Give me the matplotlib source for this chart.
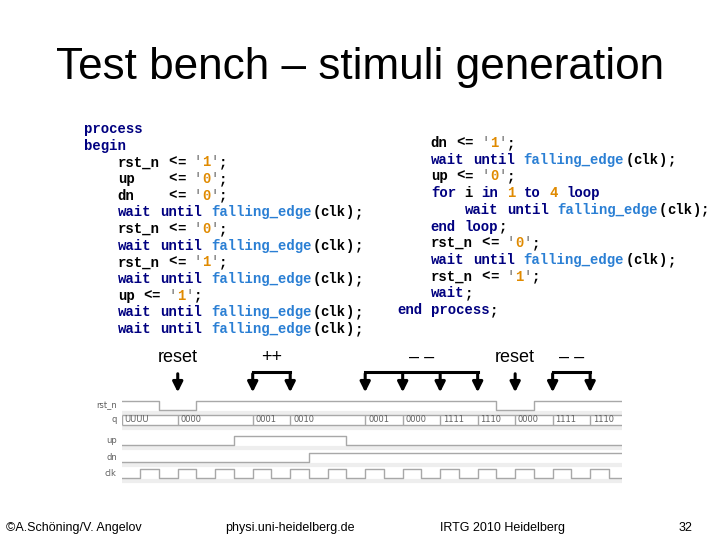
import re
import matplotlib
matplotlib.use('Agg')
import matplotlib.pyplot as plt

# --- data -------------------------------------------------------------
title = 'Test bench \u2013 stimuli generation'

code_left = [
    "process",
    "begin",
    "    rst_n <= '1';",
    "    up    <= '0';",
    "    dn    <= '0';",
    "    wait until falling_edge(clk);",
    "    rst_n <= '0';",
    "    wait until falling_edge(clk);",
    "    rst_n <= '1';",
    "    wait until falling_edge(clk);",
    "    up <= '1';",
    "    wait until falling_edge(clk);",
    "    wait until falling_edge(clk);",
]
code_right = [
    "    dn <= '1';",
    "    wait until falling_edge(clk);",
    "    up <= '0';",
    "    for i in 1 to 4 loop",
    "        wait until falling_edge(clk);",
    "    end loop;",
    "    rst_n <= '0';",
    "    wait until falling_edge(clk);",
    "    rst_n <= '1';",
    "    wait;",
    "end process;",
]
keywords = {'process', 'begin', 'wait', 'until', 'for', 'in', 'to', 'loop', 'end'}

# signal values per half clock period (t = 0 .. 26)
clk   = [0, 1] * 13 + [0]
rst_n = [1]*2 + [0]*2 + [1]*16 + [0]*2 + [1]*5
up    = [0]*6 + [1]*6 + [0]*15
dn    = [0]*10 + [1]*17
q_times  = [0, 3, 7, 9, 13, 15, 17, 19, 21, 23, 25]
q_labels = ['UUUU', '0000', '0001', '0010', '0001', '0000', '1111', '1110', '0000', '1111', '1110']
t_end = 26.7

events = [('reset', [3]), ('++', [7, 9]), ('\u2013 \u2013', [13, 15, 17, 19]),
          ('reset', [21]), ('\u2013 \u2013', [23, 25])]

footer = [('\u00a9A.Sch\u00f6ning/V. Angelov', 6, 'left'),
          ('physi.uni-heidelberg.de', 290, 'center'),
          ('IRTG 2010 Heidelberg', 503, 'center'),
          ('32', 692, 'right')]

# --- figure -----------------------------------------------------------
W, H = 720, 540
fig = plt.figure(figsize=(7.2, 5.4), dpi=100)
fig.patch.set_facecolor('white')

fig.text(360 / W, 1 - 68 / H, title, ha='center', va='center',
         fontsize=31.8, family='Liberation Sans')

CW = 8.45  # monospace char width in px
tok_re = re.compile(r"[A-Za-z_]+|\d+|'|\s+|.")


def draw_code(lines, x0, y0, dy):
    for i, line in enumerate(lines):
        y = y0 + i * dy
        pos = 0
        for tok in tok_re.findall(line):
            if tok.isspace():
                pos += len(tok)
                continue
            col = 'black'
            if tok in keywords:
                col = '#000080'
            elif tok == 'falling_edge':
                col = '#2a7fd4'
            elif tok.isdigit():
                col = '#e08a00'
            elif tok == "'":
                col = '#909090'
            fig.text((x0 + pos * CW) / W, 1 - y / H, tok, ha='left', va='center',
                     fontsize=10.1, family='Liberation Mono', weight='bold', color=col)
            pos += len(tok)


draw_code(code_left, 84, 129, 16.67)
draw_code(code_right, 397, 143, 16.7)

# waveform axes: x in half clock periods, y in pixels
x0px, x1px = 121.5, 622
ax = fig.add_axes([x0px / W, 1 - 485 / H, (x1px - x0px) / W, (485 - 340) / H])
ax.set_xlim(0, t_end)
ax.set_ylim(485, 340)
ax.axis('off')

gray = '#a8a8a8'
rows = [('rst_n', rst_n, 401, 410), ('up', up, 436, 445),
        ('dn', dn, 453, 462), ('clk', clk, 469, 478)]
for name, vals, yh, yl in rows:
    ax.axhline(yl + 3, color='#eeeeee', lw=3, zorder=0)
    ys = [yh if v else yl for v in vals] + [yh if vals[-1] else yl]
    ax.step(list(range(len(vals))) + [t_end], ys, where='post', color=gray, lw=1)
    ax.text(-0.25, (yh + yl) / 2, name, ha='right', va='center', fontsize=6,
            color='#606060', clip_on=False)

# q bus
qt, qb = 415, 425
ax.axhline(qb + 3, color='#eeeeee', lw=3, zorder=0)
ax.hlines([qt, qb], 0, t_end, color=gray, lw=1)
ax.vlines(q_times, qt, qb, color=gray, lw=1)
for t, lab in zip(q_times, q_labels):
    ax.text(t + 0.15, (qt + qb) / 2, lab, ha='left', va='center', fontsize=6,
            color='#606060')
ax.text(-0.25, (qt + qb) / 2, 'q', ha='right', va='center', fontsize=6,
        color='#606060', clip_on=False)

# event arrows
for lab, ts in events:
    if len(ts) > 1:
        ax.plot([ts[0], ts[-1]], [372, 372], color='black', lw=2.2, clip_on=False)
    for t in ts:
        ax.annotate('', xy=(t, 395), xytext=(t, 371),
                    arrowprops=dict(arrowstyle='-|>', color='black', lw=2.2,
                                    mutation_scale=15), annotation_clip=False)
    ax.text((ts[0] + ts[-1]) / 2, 358, lab, ha='center', va='center',
            fontsize=13, family='Liberation Sans', clip_on=False)

for txt, x, ha in footer:
    fig.text(x / W, 1 - 528 / H, txt, ha=ha, va='center', fontsize=9,
             family='Liberation Sans')

fig.savefig('out.png', dpi=100)
